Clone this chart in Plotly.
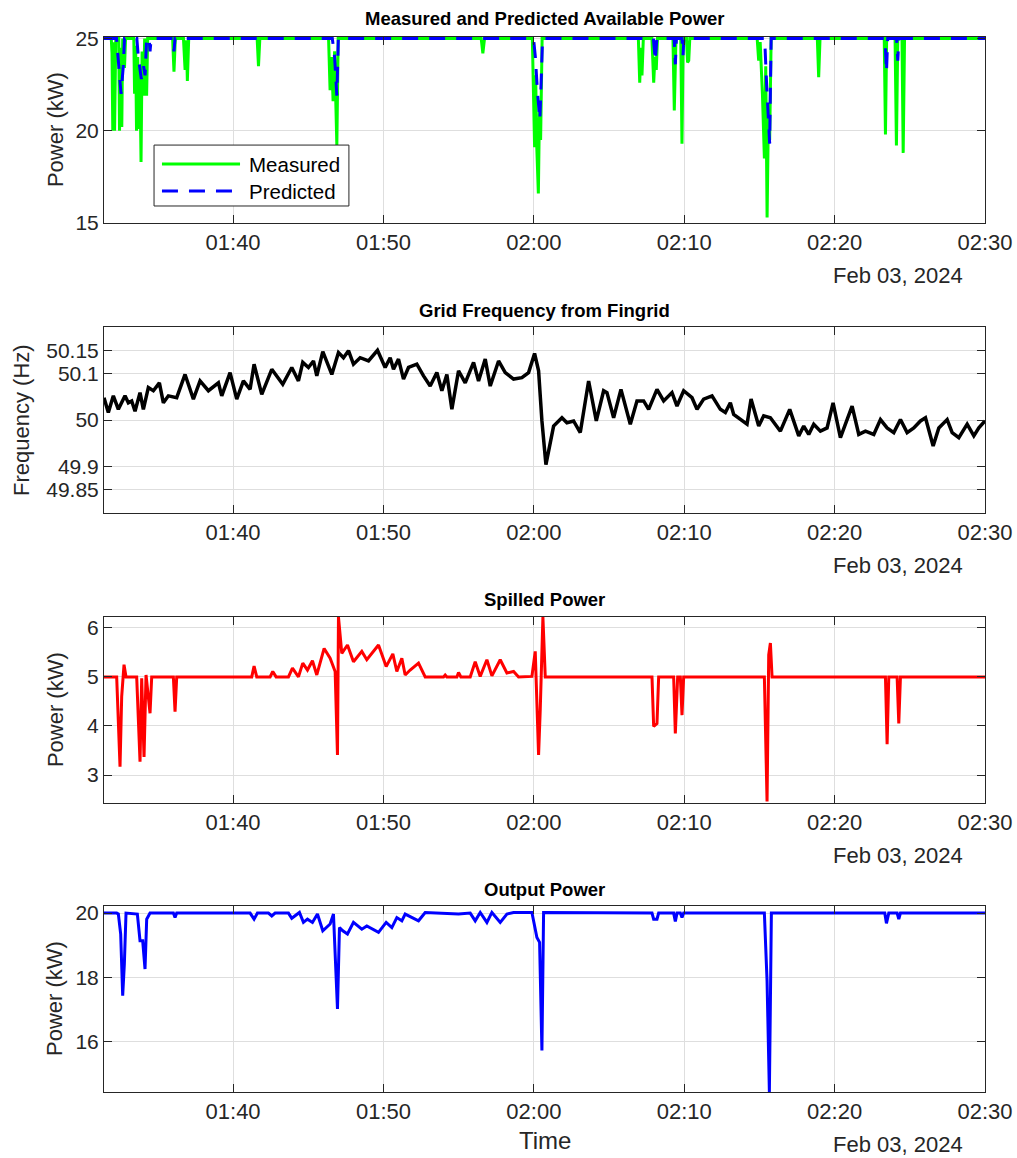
import pandas as pd
import plotly.graph_objects as go

T0 = pd.Timestamp("2024-02-03 01:30:00")

# ---- data: time in minutes after 01:30:00 on Feb 03, 2024 ----
avail_meas_t = [1.417, 1.90, 1.95, 2.00, 2.05, 2.12, 2.20, 2.40, 2.45, 2.52, 2.60, 2.66, 2.78, 2.85,
                3.40, 3.45, 3.52, 3.58, 3.66, 3.72, 3.80, 3.88, 3.95, 4.05, 4.12, 4.25, 4.32,
                5.98, 6.07, 6.16, 6.70, 6.81, 6.90, 6.96, 7.05, 11.60, 11.69, 11.78,
                16.35, 16.45, 16.55, 16.65, 16.75, 16.90, 16.99, 26.50, 26.61, 26.72,
                29.90, 29.98, 30.05, 30.12, 30.20, 30.30, 30.38, 30.45, 30.55,
                36.95, 37.04, 37.12, 37.19, 37.28, 37.85, 37.97, 38.05, 38.14, 38.22,
                39.25, 39.34, 39.45, 39.77, 39.85, 39.93, 40.15, 40.22, 40.30, 40.37,
                44.85, 44.95, 45.05, 45.20, 45.33, 45.42, 45.51, 45.60, 45.68, 45.78,
                48.85, 48.94, 49.03, 53.30, 53.38, 53.46, 54.02, 54.11, 54.20,
                54.48, 54.56, 54.65, 60.0]
avail_meas_kw = [25, 25, 24.2, 20.0, 24.8, 20.0, 25, 25, 20.0, 24.5, 20.2, 25, 23.4, 25,
                 25, 22.0, 24.6, 20.0, 24.0, 20.1, 23.5, 18.3, 24.3, 21.9, 25, 21.9, 25,
                 25, 23.2, 25, 25, 23.3, 24.9, 22.7, 25, 25, 23.5, 25,
                 25, 22.2, 24.0, 21.6, 24.3, 19.2, 25, 25, 24.2, 25,
                 25, 21.0, 19.1, 23.0, 19.0, 16.6, 21.5, 19.5, 25,
                 25, 22.6, 24.5, 23.0, 25, 25, 22.6, 24.0, 23.3, 25,
                 25, 21.1, 25, 25, 19.3, 25, 25, 23.7, 23.8, 25,
                 25, 23.8, 24.8, 22.0, 18.5, 23.5, 15.3, 21.0, 19.5, 25,
                 25, 22.9, 25, 25, 19.8, 25, 25, 19.2, 25,
                 25, 18.8, 25, 25]

avail_pred_t = [1.417, 2.25, 2.35, 2.55, 2.70, 2.78, 3.60, 3.70, 3.90, 4.05, 4.15, 4.25,
                4.42, 4.48, 4.55, 6.00, 6.07, 6.14, 16.60, 16.75, 16.90, 17.00,
                29.98, 30.10, 30.25, 30.40, 30.50, 30.58, 37.95, 38.08, 38.18,
                39.33, 39.41, 39.48, 39.85, 39.92, 39.98, 45.35, 45.45, 45.58, 45.68, 45.78,
                53.35, 53.45, 53.53, 54.12, 54.20, 54.27, 60.0]
avail_pred_kw = [25, 25, 24.0, 22.0, 23.5, 25, 25, 24.0, 22.8, 23.5, 23.0, 25,
                 25, 24.3, 25, 25, 24.3, 25, 25, 24.0, 21.9, 25,
                 25, 24.0, 22.0, 20.6, 23.0, 25, 25, 23.8, 25,
                 25, 23.6, 25, 25, 24.1, 25, 25, 23.0, 20.5, 19.3, 25,
                 25, 23.2, 25, 25, 23.8, 25, 25]

freq_t = [1.417, 1.705, 2.038, 2.371, 2.814, 3.036, 3.258, 3.480, 3.812, 4.034,
          4.367, 4.699, 5.099, 5.365, 5.698, 6.252, 6.806, 7.361, 7.804, 8.359,
          9.024, 9.246, 9.800, 10.244, 10.687, 11.131, 11.397, 11.907, 12.573, 13.304,
          13.903, 14.347, 14.635, 15.012, 15.345, 15.567, 15.966, 16.565, 17.008, 17.341,
          17.674, 18.006, 18.450, 19.005, 19.603, 20.113, 20.446, 20.668, 21.000, 21.333,
          21.666, 22.220, 22.664, 23.107, 23.551, 23.884, 24.216, 24.549, 24.993, 25.436,
          25.991, 26.323, 26.767, 27.100, 27.654, 28.098, 28.652, 29.206, 29.650, 30.049,
          30.315, 30.537, 30.803, 31.091, 31.313, 31.868, 32.200, 32.644, 33.087, 33.642,
          34.152, 34.640, 34.862, 35.305, 35.793, 36.414, 36.858, 37.301, 37.634, 38.188,
          38.632, 39.186, 39.519, 39.962, 40.517, 40.850, 41.293, 41.848, 42.402, 42.735,
          43.067, 43.289, 43.733, 44.176, 44.443, 44.952, 45.285, 45.729, 46.394, 47.015,
          47.614, 47.946, 48.279, 48.612, 49.055, 49.499, 49.898, 50.386, 51.162, 51.606,
          52.050, 52.604, 53.048, 53.491, 53.935, 54.378, 54.822, 55.265, 55.709, 56.042,
          56.552, 56.929, 57.483, 57.816, 58.260, 58.814, 59.258, 59.590, 60.0]
freq_hz = [50.048, 50.016, 50.052, 50.023, 50.052, 50.037, 50.041, 50.019, 50.059, 50.023,
           50.070, 50.063, 50.080, 50.037, 50.052, 50.048, 50.098, 50.045, 50.084, 50.063,
           50.080, 50.052, 50.102, 50.045, 50.084, 50.066, 50.120, 50.055, 50.109, 50.077,
           50.113, 50.084, 50.124, 50.113, 50.127, 50.095, 50.147, 50.098, 50.145, 50.134,
           50.149, 50.120, 50.134, 50.127, 50.150, 50.113, 50.134, 50.109, 50.131, 50.088,
           50.113, 50.120, 50.095, 50.073, 50.102, 50.063, 50.098, 50.023, 50.106, 50.080,
           50.124, 50.084, 50.131, 50.073, 50.127, 50.102, 50.088, 50.091, 50.102, 50.143,
           50.106, 49.998, 49.904, 49.948, 49.987, 50.005, 49.994, 49.998, 49.973, 50.084,
           49.998, 50.063, 50.059, 50.005, 50.066, 49.991, 50.041, 50.041, 50.023, 50.066,
           50.041, 50.059, 50.030, 50.063, 50.048, 50.023, 50.045, 50.052, 50.023, 50.016,
           50.037, 50.012, 50.001, 49.991, 50.045, 49.987, 50.009, 50.005, 49.976, 50.023,
           49.966, 49.987, 49.969, 49.991, 49.976, 49.983, 50.037, 49.962, 50.030, 49.969,
           49.976, 49.969, 50.001, 49.983, 49.973, 50.001, 49.973, 49.983, 49.998, 50.005,
           49.944, 49.983, 50.001, 49.973, 49.962, 49.991, 49.966, 49.983, 49.998]

spill_t = [1.417, 2.260, 2.482, 2.593, 2.748, 2.881, 3.591, 3.812, 3.923, 4.079,
           4.212, 4.478, 4.589, 6.030, 6.141, 6.252, 11.242, 11.397, 11.575, 12.462,
           12.639, 12.861, 13.682, 13.948, 14.347, 14.635, 14.946, 15.278, 15.567, 16.055,
           16.454, 16.787, 16.942, 17.008, 17.230, 17.607, 18.006, 18.561, 18.893, 19.670,
           20.180, 20.623, 20.889, 21.222, 21.444, 21.777, 22.331, 22.775, 23.994, 24.105,
           24.216, 24.882, 24.993, 25.148, 25.769, 26.101, 26.434, 26.878, 27.211, 27.765,
           28.209, 28.652, 28.985, 29.872, 30.093, 30.315, 30.426, 30.603, 30.759, 37.856,
           37.967, 38.188, 38.299, 39.297, 39.408, 39.563, 39.741, 39.852, 39.962, 45.329,
           45.507, 45.618, 45.729, 45.840, 53.380, 53.491, 53.602, 54.156, 54.267, 54.378,
           60.0]
spill_kw = [5.0, 5.0, 3.17, 4.60, 5.25, 5.0, 5.0, 3.27, 4.97, 3.37,
            5.04, 4.26, 5.0, 5.0, 4.29, 5.0, 5.0, 5.22, 5.0, 5.0,
            5.11, 5.0, 5.0, 5.18, 5.0, 5.28, 5.14, 5.33, 5.04, 5.58,
            5.38, 5.11, 3.41, 6.22, 5.48, 5.65, 5.31, 5.52, 5.35, 5.65,
            5.21, 5.47, 5.11, 5.38, 5.04, 5.14, 5.28, 5.0, 5.0, 5.04,
            5.0, 5.0, 5.09, 5.0, 5.0, 5.31, 5.01, 5.35, 5.02, 5.35,
            5.08, 5.11, 5.0, 5.01, 5.52, 3.41, 4.33, 6.22, 5.0, 5.0,
            3.99, 4.05, 5.0, 5.0, 3.85, 5.0, 5.0, 4.22, 5.0, 5.0,
            2.46, 5.45, 5.69, 5.0, 5.0, 3.63, 5.0, 5.0, 4.05, 5.0,
            5.0]

out_t = [1.417, 2.260, 2.371, 2.526, 2.659, 2.770, 2.881, 3.635, 3.812, 3.990,
         4.145, 4.256, 4.478, 6.030, 6.141, 6.252, 11.131, 11.397, 11.619, 12.351,
         12.573, 12.795, 13.682, 13.903, 14.413, 14.679, 14.946, 15.278, 15.611, 15.966,
         16.454, 16.676, 16.942, 17.075, 17.297, 17.607, 18.006, 18.561, 18.893, 19.670,
         20.180, 20.557, 20.889, 21.222, 21.444, 22.331, 22.775, 23.994, 24.993, 25.769,
         26.101, 26.434, 26.878, 27.211, 27.765, 28.209, 28.652, 29.872, 30.204, 30.382,
         30.537, 30.648, 37.856, 37.967, 38.188, 38.299, 39.297, 39.408, 39.519, 39.741,
         39.852, 39.962, 45.329, 45.507, 45.662, 45.795, 53.335, 53.446, 53.602, 54.156,
         54.267, 54.378, 60.0]
out_kw = [20.0, 20.0, 19.97, 19.35, 17.43, 18.42, 20.0, 19.97, 19.14, 19.14,
          18.26, 19.81, 20.0, 20.0, 19.86, 20.0, 20.0, 19.81, 20.0, 20.0,
          19.91, 20.0, 20.0, 19.84, 20.02, 19.71, 19.81, 19.71, 19.97, 19.45,
          19.66, 19.97, 17.02, 19.55, 19.45, 19.35, 19.71, 19.50, 19.60, 19.40,
          19.71, 19.55, 19.86, 19.76, 19.97, 19.76, 20.02, 20.0, 19.97, 20.0,
          19.76, 20.02, 19.71, 20.02, 19.71, 19.97, 20.02, 20.02, 19.24, 19.09,
          15.73, 20.02, 20.0, 19.81, 19.81, 20.0, 20.0, 19.74, 20.0, 20.0,
          19.86, 20.0, 20.0, 17.9, 14.44, 20.0, 20.0, 19.68, 20.0, 20.0,
          19.81, 20.0, 20.0]

x_tick_labels = ["01:40", "01:50", "02:00", "02:10", "02:20", "02:30"]
date_label = "Feb 03, 2024"
titles = ["Measured and Predicted Available Power", "Grid Frequency from Fingrid",
          "Spilled Power", "Output Power"]
y_titles = ["Power (kW)", "Frequency (Hz)", "Power (kW)", "Power (kW)"]
freq_ticks = [49.85, 49.9, 50.0, 50.1, 50.15]
freq_tick_text = ["49.85", "49.9", "50", "50.1", "50.15"]


def to_time(mins):
    return T0 + pd.to_timedelta(pd.Series(mins), unit="min")


FONT = "Liberation Sans, Arial, Helvetica, sans-serif"
AX = "#262626"
GRID = "#dedede"

fig = go.Figure()
fig.add_trace(go.Scatter(x=to_time(avail_meas_t), y=avail_meas_kw, mode="lines",
                         line=dict(color="#00ff00", width=3), name="Measured",
                         xaxis="x", yaxis="y"))
fig.add_trace(go.Scatter(x=to_time(avail_pred_t), y=avail_pred_kw, mode="lines",
                         line=dict(color="#0000ff", width=3, dash="16px,11px"), name="Predicted",
                         xaxis="x", yaxis="y"))
fig.add_trace(go.Scatter(x=to_time(freq_t), y=freq_hz, mode="lines",
                         line=dict(color="#000000", width=3.5), xaxis="x2", yaxis="y2"))
fig.add_trace(go.Scatter(x=to_time(spill_t), y=spill_kw, mode="lines",
                         line=dict(color="#ff0000", width=3), xaxis="x3", yaxis="y3"))
fig.add_trace(go.Scatter(x=to_time(out_t), y=out_kw, mode="lines",
                         line=dict(color="#0000ff", width=3), xaxis="x4", yaxis="y4"))

x_range = [T0 + pd.Timedelta(minutes=1.417), T0 + pd.Timedelta(minutes=60)]
x_ticks = [T0 + pd.Timedelta(minutes=m) for m in (10, 20, 30, 40, 50, 60)]

domains = [[0.8237, 1.0], [0.5488, 0.7251], [0.2739, 0.4502], [0.0, 0.1763]]
yranges = [[15, 25.08], [49.8, 50.2], [2.43, 6.22], [14.44, 20.22]]
yticks = [[15, 20, 25], freq_ticks, [3, 4, 5, 6], [16, 18, 20]]
ytext = [["15", "20", "25"], freq_tick_text, ["3", "4", "5", "6"], ["16", "18", "20"]]

common = dict(showline=True, linecolor=AX, linewidth=1, mirror="ticks", ticks="inside",
              ticklen=8, tickcolor=AX, tickwidth=1, showgrid=True, gridcolor=GRID,
              gridwidth=1, zeroline=False, automargin=False)

layout = dict(width=1017, height=1158, paper_bgcolor="white", plot_bgcolor="white",
              margin=dict(l=104, r=32, t=37, b=66, autoexpand=False), showlegend=False,
              font=dict(family=FONT, color=AX))
for i in range(4):
    s = "" if i == 0 else str(i + 1)
    layout["xaxis" + s] = dict(common, type="date", range=x_range, tickvals=x_ticks,
                               ticktext=x_tick_labels, anchor="y" + s, domain=[0, 1],
                               tickfont=dict(family=FONT, size=22, color=AX))
    layout["yaxis" + s] = dict(common, range=yranges[i], tickvals=yticks[i],
                               ticktext=ytext[i], anchor="x" + s, domain=domains[i],
                               tickfont=dict(family=FONT, size=21, color=AX))
fig.update_layout(**layout)

ann = []
title_y = [1.018, 0.7412, 0.4664, 0.1915]
ytitle_y = [0.9118, 0.637, 0.362, 0.0882]
ytitle_x = [-0.0556, -0.0931, -0.0556, -0.0556]
date_y = [0.7744, 0.4995, 0.2246, -0.0493]
for i in range(4):
    ann.append(dict(text="<b>" + titles[i] + "</b>", x=0.5, y=title_y[i], xref="paper",
                    yref="paper", showarrow=False, xanchor="center", yanchor="middle",
                    font=dict(family=FONT, size=18.5, color="black")))
    ann.append(dict(text=y_titles[i], x=ytitle_x[i], y=ytitle_y[i], xref="paper",
                    yref="paper", showarrow=False, textangle=-90, xanchor="center",
                    yanchor="middle", font=dict(family=FONT, size=22, color=AX)))
    ann.append(dict(text=date_label, x=0.901, y=date_y[i], xref="paper", yref="paper",
                    showarrow=False, xanchor="center", yanchor="middle",
                    font=dict(family=FONT, size=22, color=AX)))
ann.append(dict(text="Time", x=0.5, y=-0.0464, xref="paper", yref="paper", showarrow=False,
                xanchor="center", yanchor="middle", font=dict(family=FONT, size=24, color=AX)))

# custom legend for the first panel
shapes = [
    dict(type="rect", xref="x domain", yref="y domain", x0=0.0568, x1=0.278, y0=0.0914,
         y1=0.419, line=dict(color=AX, width=1), fillcolor="white", layer="above"),
    dict(type="line", xref="x domain", yref="y domain", x0=0.0658, x1=0.1544, y0=0.317,
         y1=0.317, line=dict(color="#00ff00", width=3), layer="above"),
    dict(type="line", xref="x domain", yref="y domain", x0=0.0658, x1=0.1544, y0=0.172,
         y1=0.172, line=dict(color="#0000ff", width=3, dash="16px,11px"), layer="above"),
]
ann.append(dict(text="Measured", x=0.162, y=0.317, xref="x domain", yref="y domain",
                showarrow=False, xanchor="left", yanchor="middle",
                font=dict(family=FONT, size=20.5, color="black")))
ann.append(dict(text="Predicted", x=0.162, y=0.172, xref="x domain", yref="y domain",
                showarrow=False, xanchor="left", yanchor="middle",
                font=dict(family=FONT, size=20.5, color="black")))
fig.update_layout(annotations=ann, shapes=shapes)

fig.write_html("out.html")
